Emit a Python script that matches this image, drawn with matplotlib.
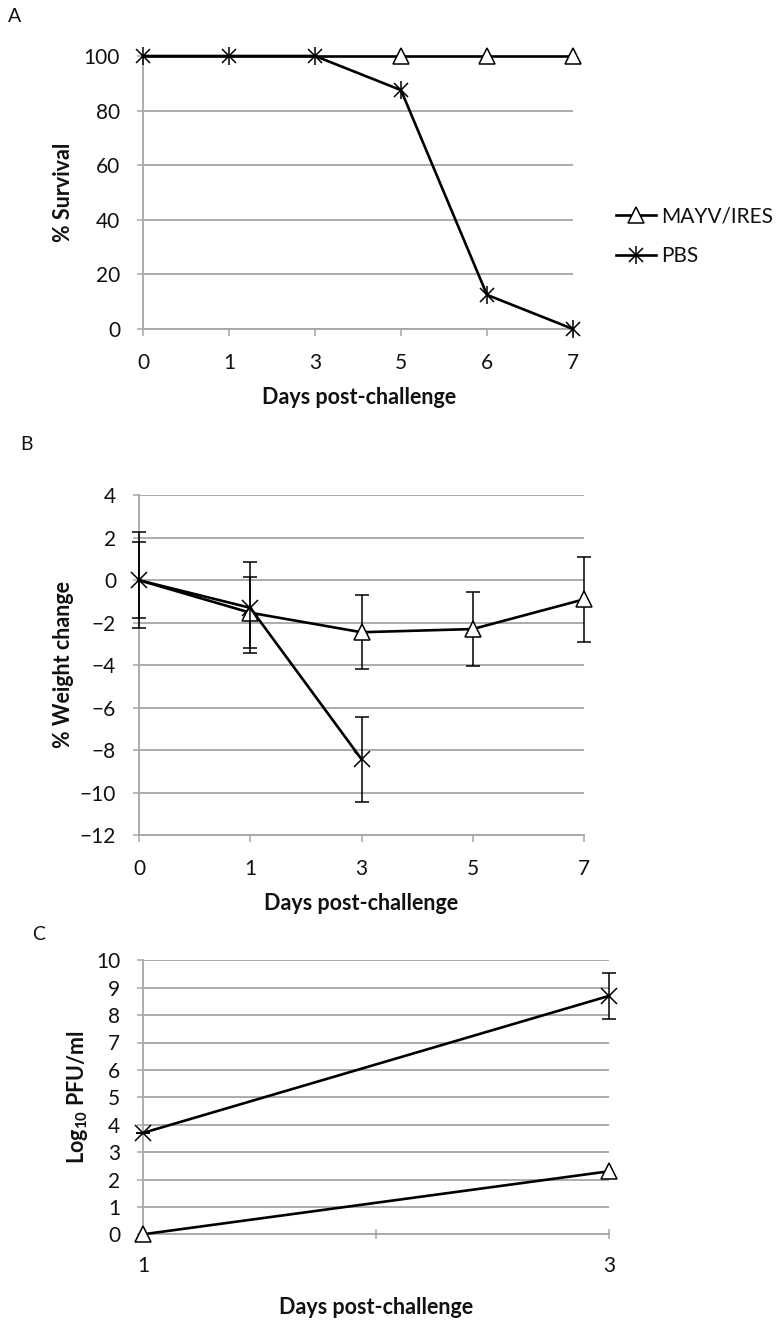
import matplotlib
matplotlib.use("Agg")
import matplotlib.pyplot as plt
from matplotlib.lines import Line2D
from matplotlib.legend_handler import HandlerTuple

plt.rcParams['font.family'] = ['Lato', 'DejaVu Sans']
plt.rcParams['mathtext.fontset'] = 'custom'
plt.rcParams['mathtext.rm'] = 'Lato:bold'
plt.rcParams['mathtext.bf'] = 'Lato:bold'
plt.rcParams['mathtext.default'] = 'bf'

# ---- Panel A data ----
days_a = ['0', '1', '3', '5', '6', '7']
surv_mayv = [100, 100, 100, 100, 100, 100]
surv_pbs = [100, 100, 100, 87.5, 12.5, 0]

# ---- Panel B data ----
days_b = ['0', '1', '3', '5', '7']
wt_mayv = [0, -1.53, -2.45, -2.3, -0.9]
wt_mayv_err = [1.8, 1.68, 1.75, 1.74, 2.0]
wt_pbs = [0, -1.3, -8.43]
wt_pbs_err = [2.25, 2.15, 2.0]

# ---- Panel C data ----
days_c = [1, 3]
pfu_mayv = [0, 2.3]
pfu_pbs = [3.7, 8.7]
pfu_pbs_err = [0, 0.85]

W, H = 781, 1325
fig = plt.figure(figsize=(W / 100, H / 100), dpi=100)

GRID = '#a6a6a6'
TXT = '#111111'
FS = 15
LFS = 15.5


def fx(px):
    return px / W


def fy(py):
    return 1 - py / H


def style(ax, tickdir='out'):
    for s in ['top', 'right']:
        ax.spines[s].set_visible(False)
    for s in ['left', 'bottom']:
        ax.spines[s].set_color(GRID)
        ax.spines[s].set_linewidth(1.3)
    ax.yaxis.grid(True, color=GRID, linewidth=1.3)
    ax.set_axisbelow(True)
    ax.tick_params(axis='y', direction='out', length=4.5, width=1.1, color=GRID,
                   labelsize=FS, labelcolor=TXT, pad=12)
    ax.tick_params(axis='x', direction=tickdir, length=5 if tickdir == 'out' else 7,
                   width=1.1, color=GRID, labelsize=FS, labelcolor=TXT, pad=12)


def make_ax(l, r, t, b):
    return fig.add_axes([fx(l), fy(b), fx(r) - fx(l), fy(t) - fy(b)])


# ---------------- Panel A ----------------
axA = make_ax(143, 573, 56, 329)
style(axA)
xa = list(range(len(days_a)))
axA.plot(xa, surv_mayv, color='black', lw=1.9, marker='^', ms=11, mfc='white',
         mec='black', mew=1.1, markevery=[3, 4, 5], clip_on=False, zorder=3)
axA.plot(xa, surv_pbs, color='black', lw=1.9, clip_on=False, zorder=4)
axA.plot(xa, surv_pbs, ls='none', marker='x', ms=10, mec='black', mew=1.1, clip_on=False, zorder=5)
axA.plot(xa, surv_pbs, ls='none', marker='|', ms=13, mec='black', mew=1.1, clip_on=False, zorder=5)
axA.set_xlim(0, len(days_a) - 1)
axA.set_ylim(0, 100)
axA.set_xticks(xa)
axA.set_xticklabels(days_a)
axA.set_yticks([0, 20, 40, 60, 80, 100])

h_mayv = Line2D([], [], color='black', lw=1.9, marker='^', ms=11, mfc='white', mec='black', mew=1.1)
h_pbs_line = Line2D([], [], color='black', lw=1.9, marker='x', ms=10, mec='black', mew=1.1)
h_pbs_bar = Line2D([], [], ls='none', marker='|', ms=13, mec='black', mew=1.1)
fig.legend([h_mayv, (h_pbs_line, h_pbs_bar)], ['MAYV/IRES', 'PBS'],
           handler_map={tuple: HandlerTuple(ndivide=1)},
           loc='center left', bbox_to_anchor=(fx(616), fy(236)), frameon=False,
           fontsize=FS, handlelength=1.9, handletextpad=0.25, labelspacing=0.95,
           borderpad=0, borderaxespad=0, labelcolor=TXT)

fig.text(fx(15), fy(17), 'A', fontsize=14, color=TXT, ha='center', va='center')
fig.text(fx(63), fy(192), '% Survival', rotation=90, fontsize=LFS, fontweight='bold',
         color=TXT, ha='center', va='center')
fig.text(fx(359), fy(398), 'Days post-challenge', fontsize=LFS, fontweight='bold',
         color=TXT, ha='center', va='center')

# ---------------- Panel B ----------------
axB = make_ax(139, 584, 495.3, 835)
style(axB)
xb = list(range(len(days_b)))
axB.errorbar(xb, wt_mayv, yerr=wt_mayv_err, color='black', lw=1.9, ecolor='black',
             elinewidth=1.1, capsize=5, capthick=1.1, marker='^', ms=11, mfc='white',
             mec='black', mew=1.1, markevery=[1, 2, 3, 4], clip_on=False, zorder=3)
xpb = xb[:len(wt_pbs)]
axB.errorbar(xpb, wt_pbs, yerr=wt_pbs_err, color='black', lw=1.9, ecolor='black',
             elinewidth=1.1, capsize=5, capthick=1.1, marker='x', ms=11, mec='black',
             mew=1.1, clip_on=False, zorder=4)
axB.set_xlim(0, len(days_b) - 1)
axB.set_ylim(-12, 4)
axB.set_xticks(xb)
axB.set_xticklabels(days_b)
axB.set_yticks(list(range(-12, 5, 2)))

fig.text(fx(27), fy(445), 'B', fontsize=14, color=TXT, ha='center', va='center')
fig.text(fx(64), fy(665), '% Weight change', rotation=90, fontsize=LFS, fontweight='bold',
         color=TXT, ha='center', va='center')
fig.text(fx(361), fy(904), 'Days post-challenge', fontsize=LFS, fontweight='bold',
         color=TXT, ha='center', va='center')

# ---------------- Panel C ----------------
axC = make_ax(143, 609, 960.3, 1234.3)
style(axC, tickdir='inout')
axC.plot(days_c, pfu_mayv, color='black', lw=1.9, marker='^', ms=11, mfc='white',
         mec='black', mew=1.1, clip_on=False, zorder=3)
axC.errorbar(days_c, pfu_pbs, yerr=pfu_pbs_err, color='black', lw=1.9, ecolor='black',
             elinewidth=1.1, capsize=5, capthick=1.1, marker='x', ms=11, mec='black',
             mew=1.1, clip_on=False, zorder=4)
axC.set_xlim(1, 3)
axC.set_ylim(0, 10)
axC.set_xticks([1, 2, 3])
axC.set_xticklabels(['1', '', '3'])
axC.set_yticks(list(range(0, 11)))

fig.text(fx(39), fy(934), 'C', fontsize=14, color=TXT, ha='center', va='center')
fig.text(fx(78), fy(1097), r'Log$_{10}$ PFU/ml', rotation=90, fontsize=LFS, fontweight='bold',
         color=TXT, ha='center', va='center')
fig.text(fx(376), fy(1307), 'Days post-challenge', fontsize=LFS, fontweight='bold',
         color=TXT, ha='center', va='center')

fig.savefig('out.png', dpi=100, facecolor='white')
